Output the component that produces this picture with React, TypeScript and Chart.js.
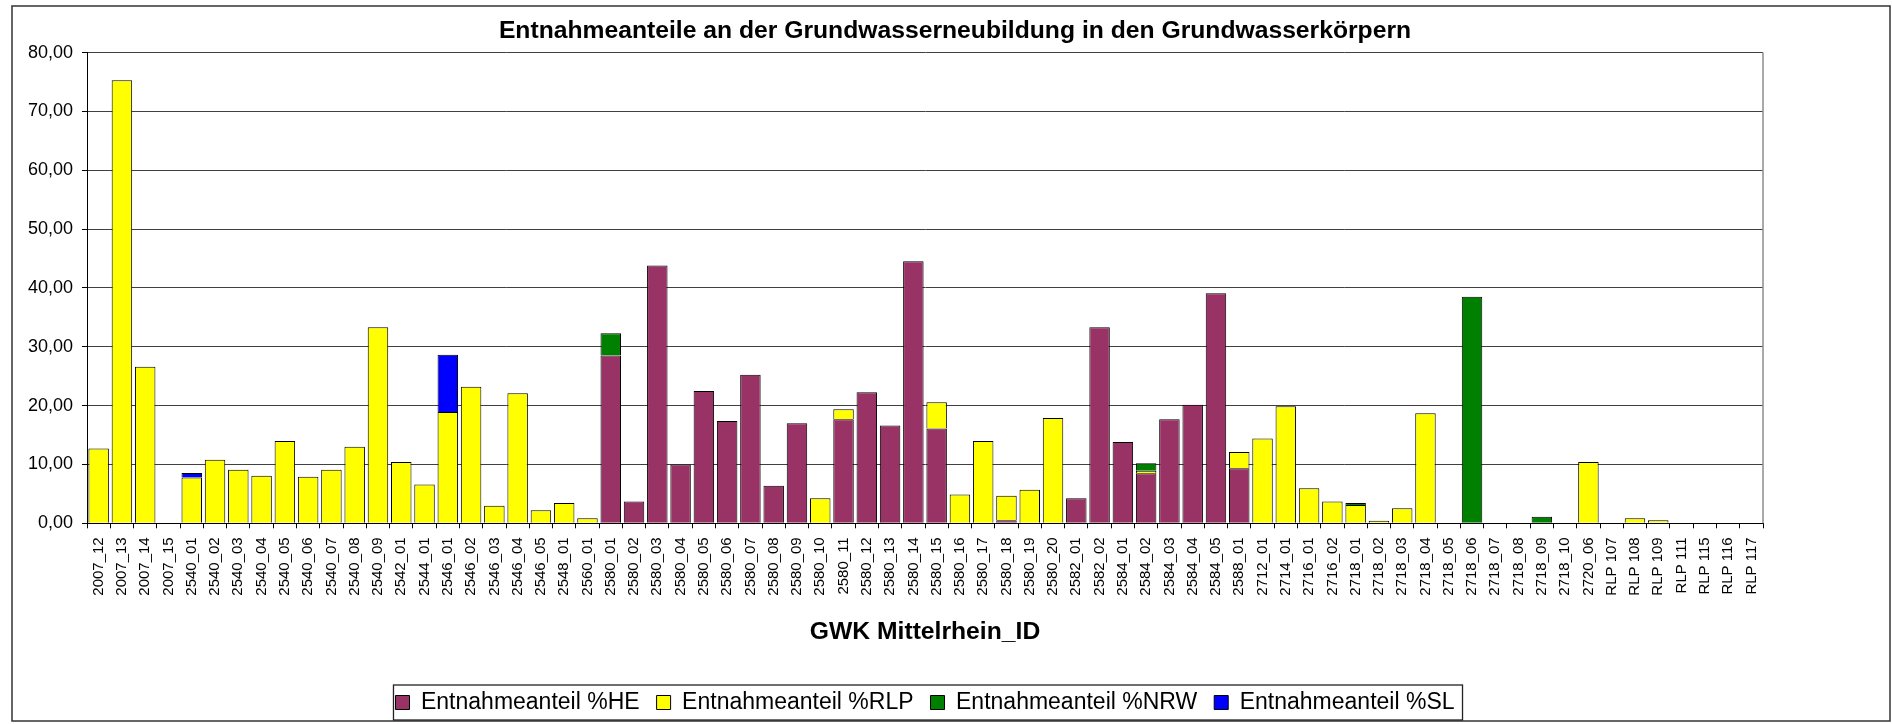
import React, { useEffect, useRef } from "react";
import { Chart, registerables } from "chart.js";

Chart.register(...registerables);

const FONT = '"Liberation Sans", Arial, Helvetica, sans-serif';

const chartTitle = "Entnahmeanteile an der Grundwasserneubildung in den Grundwasserkörpern";
const xAxisTitle = "GWK Mittelrhein_ID";

const categories = [
  "2007_12", "2007_13", "2007_14", "2007_15", "2540_01", "2540_02", "2540_03", "2540_04", "2540_05", "2540_06", "2540_07", "2540_08",
  "2540_09", "2542_01", "2544_01", "2546_01", "2546_02", "2546_03", "2546_04", "2546_05", "2548_01", "2560_01", "2580_01", "2580_02",
  "2580_03", "2580_04", "2580_05", "2580_06", "2580_07", "2580_08", "2580_09", "2580_10", "2580_11", "2580_12", "2580_13", "2580_14",
  "2580_15", "2580_16", "2580_17", "2580_18", "2580_19", "2580_20", "2582_01", "2582_02", "2584_01", "2584_02", "2584_03", "2584_04",
  "2584_05", "2588_01", "2712_01", "2714_01", "2716_01", "2716_02", "2718_01", "2718_02", "2718_03", "2718_04", "2718_05", "2718_06",
  "2718_07", "2718_08", "2718_09", "2718_10", "2720_06", "RLP 107", "RLP 108", "RLP 109", "RLP 111", "RLP 115", "RLP 116", "RLP 117",
];

const seriesNames = ["Entnahmeanteil %HE", "Entnahmeanteil %RLP", "Entnahmeanteil %NRW", "Entnahmeanteil %SL"];
const seriesColors = ["#993366", "#FFFF00", "#008000", "#0000FF"];

const heValues = [
  0, 0, 0, 0, 0, 0, 0, 0, 0, 0, 0, 0,
  0, 0, 0, 0, 0, 0, 0, 0, 0, 0, 28.5, 3.7,
  43.8, 10.0, 22.5, 17.4, 25.25, 6.4, 17.0, 0, 17.7, 22.25, 16.6, 44.55,
  16.1, 0, 0, 0.5, 0, 0, 4.25, 33.3, 13.8, 8.5, 17.7, 20.15,
  39.1, 9.35, 0, 0, 0, 0, 0, 0, 0, 0, 0, 0,
  0, 0, 0, 0, 0, 0, 0, 0, 0, 0, 0, 0,
];

const rlpValues = [
  12.7, 75.3, 26.6, 0, 7.8, 10.8, 9.1, 8.1, 14.0, 7.9, 9.1, 13.0,
  33.3, 10.4, 6.6, 18.9, 23.2, 3.0, 22.1, 2.2, 3.45, 0.85, 0, 0,
  0, 0, 0, 0, 0, 0, 0, 4.25, 1.7, 0, 0, 0,
  4.45, 4.9, 14.0, 4.2, 5.7, 17.9, 0, 0, 0, 0.45, 0, 0,
  0, 2.75, 14.4, 19.9, 5.95, 3.7, 3.1, 0.45, 2.55, 18.7, 0, 0,
  0, 0, 0, 0, 10.4, 0, 0.85, 0.5, 0, 0, 0, 0,
];

const nrwValues = [
  0, 0, 0, 0, 0, 0, 0, 0, 0, 0, 0, 0,
  0, 0, 0, 0, 0, 0, 0, 0, 0, 0, 3.8, 0,
  0, 0, 0, 0, 0, 0, 0, 0, 0, 0, 0, 0,
  0, 0, 0, 0, 0, 0, 0, 0, 0, 1.25, 0, 0,
  0, 0, 0, 0, 0, 0, 0.35, 0, 0, 0, 0, 38.5,
  0, 0, 1.1, 0, 0, 0, 0, 0, 0, 0, 0, 0,
];

const slValues = [
  0, 0, 0, 0, 0.75, 0, 0, 0, 0, 0, 0, 0,
  0, 0, 0, 9.75, 0, 0, 0, 0, 0, 0, 0, 0,
  0, 0, 0, 0, 0, 0, 0, 0, 0, 0, 0, 0,
  0, 0, 0, 0, 0, 0, 0, 0, 0, 0, 0, 0,
  0, 0, 0, 0, 0, 0, 0, 0, 0, 0, 0, 0,
  0, 0, 0, 0, 0, 0, 0, 0, 0, 0, 0, 0,
];

const yMin = 0;
const yMax = 80;
const yStep = 10;

export default function App() {
  const ref = useRef<HTMLCanvasElement | null>(null);

  useEffect(() => {
    document.body.style.margin = "0";
    const canvas = ref.current;
    if (!canvas) return;

    const framePlugin = {
      id: "frame",
      beforeDraw(chart: any) {
        const ctx = chart.ctx;
        ctx.save();
        ctx.fillStyle = "#ffffff";
        ctx.fillRect(0, 0, chart.width, chart.height);
        ctx.restore();
      },
      afterDraw(chart: any) {
        const { ctx, chartArea } = chart;
        ctx.save();
        // plot area right border
        ctx.strokeStyle = "#8c8c8c";
        ctx.lineWidth = 1.5;
        ctx.beginPath();
        ctx.moveTo(chartArea.right, chartArea.top);
        ctx.lineTo(chartArea.right, chartArea.bottom);
        ctx.stroke();
        // outer chart border
        ctx.strokeStyle = "#333333";
        ctx.lineWidth = 1.5;
        ctx.strokeRect(12, 6, chart.width - 14, chart.height - 9);
        // legend frame
        const lg = chart.legend;
        const hb = lg && lg.legendHitBoxes;
        if (hb && hb.length) {
          const first = hb[0];
          const last = hb[hb.length - 1];
          const cy = first.top + first.height / 2;
          const left = first.left - 2;
          const right = last.left + last.width + 8;
          ctx.strokeStyle = "#222222";
          ctx.lineWidth = 1.3;
          ctx.strokeRect(left, cy - 17.5, right - left, 35);
        }
        ctx.restore();
      },
    };

    const values = [heValues, rlpValues, nrwValues, slValues];

    const chart = new Chart(canvas, {
      type: "bar",
      data: {
        labels: categories,
        datasets: seriesNames.map((name, i) => ({
          label: name,
          data: values[i],
          backgroundColor: seriesColors[i],
          borderColor: "#000000",
          borderWidth: 1,
          barPercentage: 0.88,
          categoryPercentage: 1,
          yAxisID: "y",
        })),
      },
      options: {
        responsive: false,
        animation: false,
        devicePixelRatio: 1,
        layout: { padding: { left: 18, right: 0, top: 0, bottom: 0 } },
        plugins: {
          title: {
            display: true,
            text: chartTitle,
            color: "#000000",
            font: { family: FONT, size: 24.7, weight: "bold" },
            padding: { top: 16, bottom: 6.9 },
          },
          legend: {
            display: true,
            position: "bottom",
            fullSize: false,
            labels: {
              color: "#000000",
              font: { family: FONT, size: 23 },
              boxWidth: 14,
              boxHeight: 14,
              padding: 17,
            },
          },
          tooltip: { enabled: false },
        },
        scales: {
          x: {
            stacked: true,
            offset: true,
            grid: {
              display: true,
              offset: true,
              drawOnChartArea: false,
              drawTicks: true,
              tickLength: 5,
              tickColor: "#000000",
            },
            border: { display: true, color: "#000000", width: 1 },
            ticks: {
              autoSkip: false,
              maxRotation: 90,
              minRotation: 90,
              padding: 9,
              color: "#000000",
              font: { family: FONT, size: 15 },
            },
            title: {
              display: true,
              text: xAxisTitle,
              color: "#000000",
              font: { family: FONT, size: 24.7, weight: "bold" },
              padding: { top: 0, bottom: 27.3 },
            },
            afterFit: (scale: any) => {
              scale.height = 150.7;
            },
          },
          y: {
            stacked: true,
            position: "left",
            min: yMin,
            max: yMax,
            grid: {
              display: true,
              color: "#404040",
              lineWidth: 1,
              drawTicks: true,
              tickLength: 5,
              tickColor: "#000000",
            },
            border: { display: true, color: "#000000", width: 1 },
            ticks: {
              stepSize: yStep,
              padding: 9,
              color: "#000000",
              font: { family: FONT, size: 18 },
              callback: (v: any) => Number(v).toFixed(2).replace(".", ","),
            },
            afterFit: (scale: any) => {
              scale.width = 69;
            },
          },
          yR: {
            type: "linear",
            position: "right",
            display: true,
            grid: { display: false },
            border: { display: false },
            ticks: { display: false },
            afterFit: (scale: any) => {
              scale.width = 129;
            },
          },
        },
      },
      plugins: [framePlugin],
    } as any);

    return () => {
      chart.destroy();
    };
  }, []);

  return <canvas ref={ref} width={1892} height={724} style={{ display: "block" }} />;
}
